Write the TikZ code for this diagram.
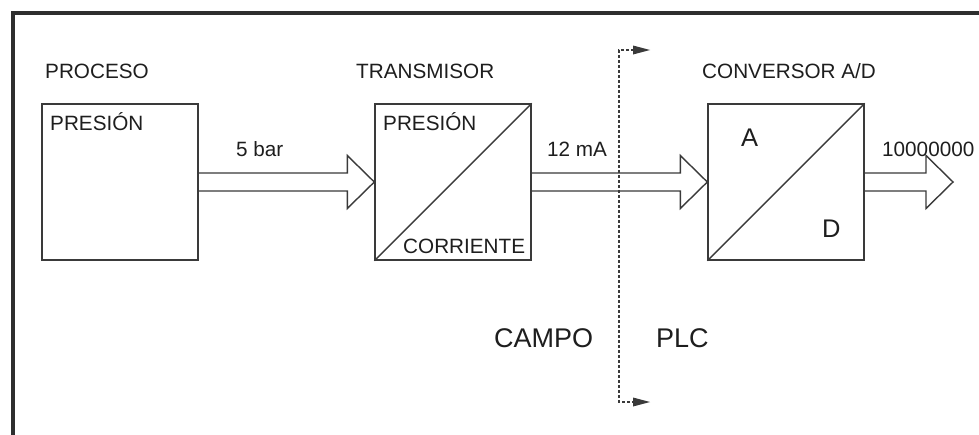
\documentclass[tikz,border=0pt]{standalone}
\usepackage{fontspec}
\setmainfont{Liberation Sans}
\usetikzlibrary{calc}
\definecolor{ln}{HTML}{3A3A3A}
\definecolor{tx}{HTML}{1E1E1E}
\tikzset{
  box/.style={draw=ln,line width=1.4pt,minimum width=156pt,minimum height=156pt,inner sep=0pt},
  lbl/.style={inner sep=0pt,anchor=base west,text=tx,font=\fontsize{20.7pt}{22pt}\selectfont},
  biglbl/.style={inner sep=0pt,anchor=base west,text=tx,font=\fontsize{25.5pt}{27pt}\selectfont},
  hollow/.style={draw=ln,line width=1.4pt,line join=miter},
  sep/.style={draw=ln,line width=1.2pt,dash pattern=on 3pt off 2pt},
  septip/.style={fill=ln}
}
\begin{document}
\begin{tikzpicture}[x=1pt,y=-1pt]
\clip (0,0) rectangle (979,434);
\fill[white] (0,0) rectangle (979,434);
% frame (top and left edges visible)
\draw[ln!80!black,line width=4pt] (13,440) -- (13,13) -- (990,13);

% boxes
\node[box] (proc) at (120,182) {};
\node[box] (trans) at (453,182) {};
\node[box] (conv) at (786,182) {};
\draw[ln,line width=1.4pt] (trans.south west) -- (trans.north east);
\draw[ln,line width=1.4pt] (conv.south west) -- (conv.north east);
\coordinate (out) at (953,182);

% hollow arrows
\draw[hollow] ($(proc.east)+(0,-9)$) -- ($(trans.west)+(-27,-9)$) -- ++(0,-17.5) -- (trans.west) -- ++(-27,26.5) -- ++(0,-17.5) -- ($(proc.east)+(0,9)$);
\draw[hollow] ($(trans.east)+(0,-9)$) -- ($(conv.west)+(-27,-9)$) -- ++(0,-17.5) -- (conv.west) -- ++(-27,26.5) -- ++(0,-17.5) -- ($(trans.east)+(0,9)$);
\draw[hollow] ($(conv.east)+(0,-9)$) -- ($(out)+(-27,-9)$) -- ++(0,-17.5) -- (out) -- ++(-27,26.5) -- ++(0,-17.5) -- ($(conv.east)+(0,9)$);

% separation line
\coordinate (tt) at (650,50);
\coordinate (bt) at (650,402);
\coordinate (tc) at (619,50);
\coordinate (bc) at (619,402);
\draw[sep] ($(tt)+(-16,0)$) -- (tc) -- (bc) -- ($(bt)+(-16,0)$);
\fill[septip] (tt) -- ++(-17,-4.5) -- ++(0,9) -- cycle;
\fill[septip] (bt) -- ++(-17,-4.5) -- ++(0,9) -- cycle;

% labels
\node[lbl] (l1) at (45,78) {PROCESO};
\node[lbl] (l2) at (356,78) {TRANSMISOR};
\node[lbl] (l3) at (702,78) {CONVERSOR A/D};
\node[lbl] (l4) at (50,130) {PRESIÓN};
\node[lbl] (l5) at (383,130) {PRESIÓN};
\node[lbl] (l6) at (403,253) {CORRIENTE};
\node[lbl] (l7) at (236,156) {5 bar};
\node[lbl] (l8) at (547,156) {12 mA};
\node[lbl] (l9) at (882,156) {10000000};
\node[biglbl] (la) at (741,146) {A};
\node[biglbl] (ld) at (822,237) {D};
\node[biglbl,font=\fontsize{27pt}{29pt}\selectfont] (lc) at (494,347) {CAMPO};
\node[biglbl,font=\fontsize{27pt}{29pt}\selectfont] (lp) at (656,347) {PLC};
\end{tikzpicture}
\end{document}
